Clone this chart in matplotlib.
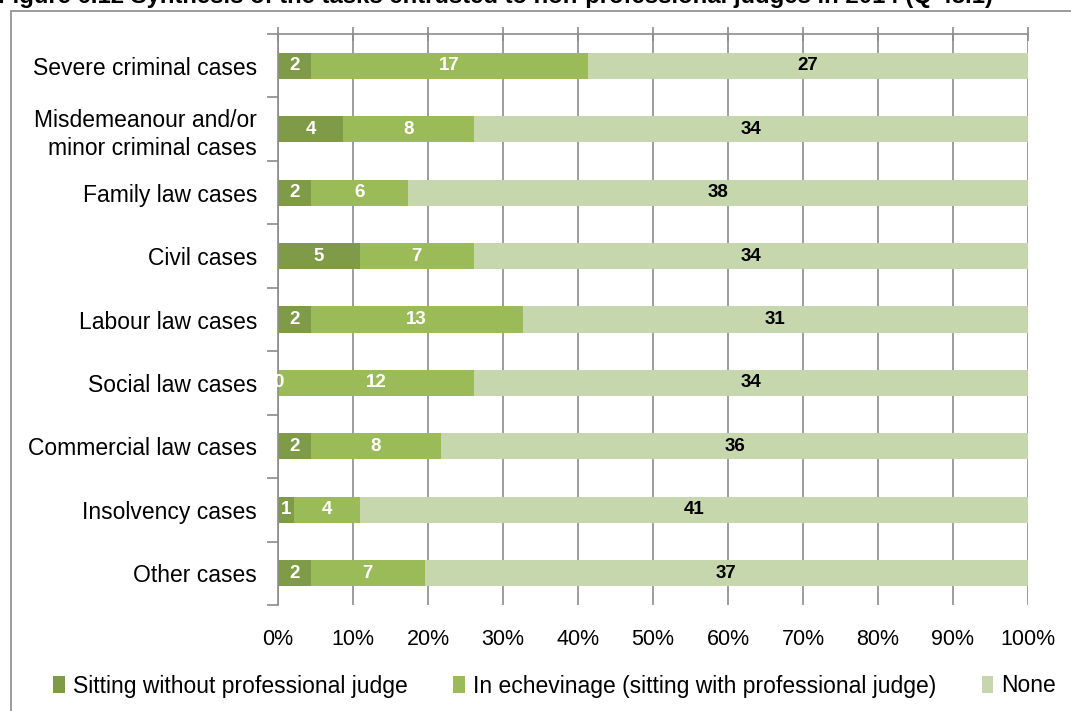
import matplotlib.pyplot as plt
import numpy as np
from matplotlib.patches import Rectangle

plt.rcParams['font.family'] = ['Liberation Sans', 'DejaVu Sans']

categories = [
    "Severe criminal cases",
    "Misdemeanour and/or\nminor criminal cases",
    "Family law cases",
    "Civil cases",
    "Labour law cases",
    "Social law cases",
    "Commercial law cases",
    "Insolvency cases",
    "Other cases",
]
without_judge = [2, 4, 2, 5, 2, 0, 2, 1, 2]
echevinage = [17, 8, 6, 7, 13, 12, 8, 4, 7]
none = [27, 34, 38, 34, 31, 34, 36, 41, 37]

series_names = [
    "Sitting without professional judge",
    "In echevinage (sitting with professional judge)",
    "None",
]
colors = ["#7F9B48", "#9BBB59", "#C6D7AD"]
label_colors = ["white", "white", "black"]
xticks = np.arange(0, 1.01, 0.1)
xticklabels = [f"{int(round(t * 100))}%" for t in xticks]

fig = plt.figure(figsize=(10.71, 7.11), dpi=100)
ax = fig.add_axes([278 / 1071, 1 - 605 / 711, 750 / 1071, 571 / 711])

# outer frame (cut off at right/bottom like the source)
fig.patches.append(Rectangle((11 / 1071, -0.2), 1.2, 1.2 - 11 / 711,
                             transform=fig.transFigure, fill=False,
                             edgecolor="#8c8c8c", linewidth=1.2, zorder=0))
# title, clipped at the top edge as in the source
fig.text(-0.002, 1 - 3 / 711,
         "Figure 6.12 Synthesis of the tasks entrusted to non-professional judges in 2014 (Q 48.1)",
         fontsize=17.2, fontweight="bold", va="baseline", ha="left")

data = np.array([without_judge, echevinage, none], dtype=float)
totals = data.sum(axis=0)
shares = data / totals
y = np.arange(len(categories))
left = np.zeros(len(categories))
for i in range(3):
    ax.barh(y, shares[i], left=left, height=0.41, color=colors[i],
            label=series_names[i], zorder=2)
    for j in range(len(categories)):
        ax.text(left[j] + shares[i][j] / 2, y[j], f"{int(data[i][j])}",
                ha="center", va="center", color=label_colors[i],
                fontsize=13.5, fontweight="bold", zorder=3)
    left = left + shares[i]

ax.set_xlim(0, 1)
ax.set_ylim(len(categories) - 0.5, -0.5)
ax.set_xticks(xticks)
ax.set_xticklabels(xticklabels, fontsize=15.5)
ax.set_yticks(y)
ax.set_yticklabels(categories, fontsize=16.5, linespacing=1.3)
ax.tick_params(axis="y", length=0, pad=15)
ax.set_yticks(np.arange(-0.5, len(categories) + 0.5, 1), minor=True)
ax.tick_params(axis="y", which="minor", length=8, color="#8c8c8c", width=1.2)
ax.tick_params(axis="x", top=True, bottom=False, direction="inout",
               length=10, color="#8c8c8c", width=1.2, pad=12)
ax.grid(axis="x", color="#8c8c8c", linewidth=1.2, zorder=0)
ax.set_axisbelow(True)
for s in ["right", "bottom"]:
    ax.spines[s].set_visible(False)
for s in ["left", "top"]:
    ax.spines[s].set_color("#8c8c8c")
    ax.spines[s].set_linewidth(1.2)

fig.legend(loc="center", bbox_to_anchor=(0.518, 1 - 686 / 711), ncol=3,
           frameon=False, fontsize=16.5, handlelength=0.5, handleheight=0.8,
           handletextpad=0.35, columnspacing=2.0)

fig.savefig("out.png", dpi=100)
